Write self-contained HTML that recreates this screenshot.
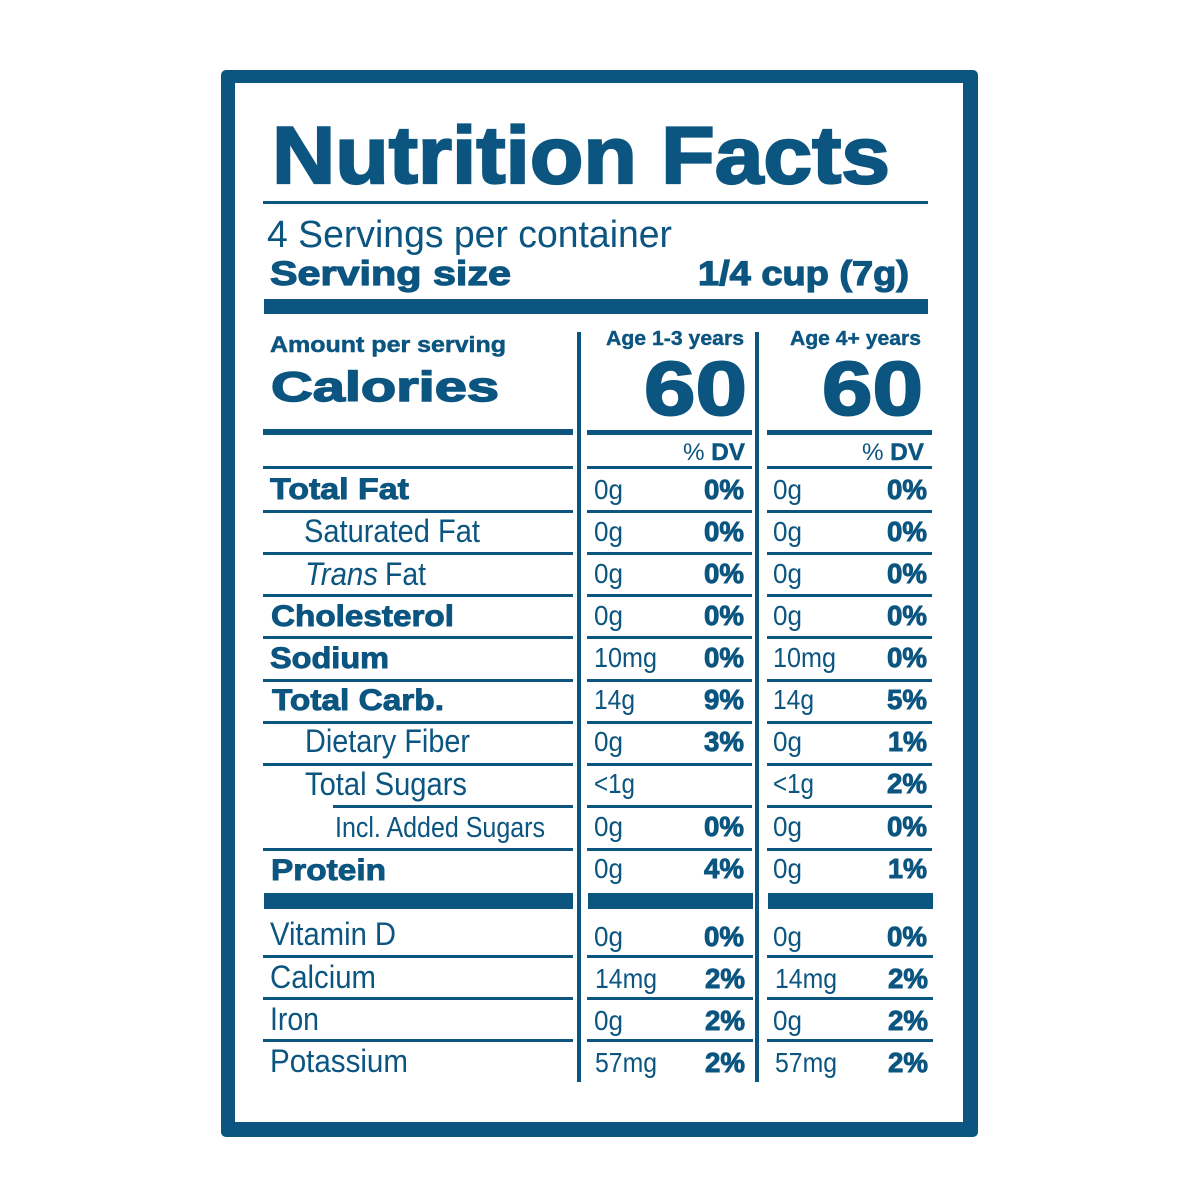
<!DOCTYPE html>
<html>
<head>
<meta charset="utf-8">
<style>
html,body{margin:0;padding:0;background:#fff;width:1200px;height:1200px;overflow:hidden;}
svg{display:block;}
.b{font-family:"Liberation Sans",sans-serif;font-weight:bold;fill:#0b5580;stroke:#0b5580;stroke-width:0.9px;}
.r{font-family:"Liberation Sans",sans-serif;font-weight:normal;fill:#0b5580;}
.i{font-family:"Liberation Sans",sans-serif;font-style:italic;fill:#0b5580;}
</style>
</head>
<body>
<svg width="1200" height="1200" viewBox="0 0 1200 1200" xmlns="http://www.w3.org/2000/svg">
<rect x="0" y="0" width="1200" height="1200" fill="#fff"/>
<!-- frame -->
<rect x="221" y="70" width="757" height="1067" rx="5" fill="#0b5580"/>
<rect x="235" y="83" width="728" height="1039" fill="#fff"/>

<g fill="#0b5580">
<!-- title rule -->
<rect x="263" y="201" width="665" height="3"/>
<!-- thick bar under serving size -->
<rect x="264" y="299" width="664" height="15"/>
<!-- vertical lines -->
<rect x="577" y="332" width="4" height="750"/>
<rect x="755" y="332" width="4" height="750"/>
<!-- thick lines under calories -->
<rect x="263" y="429" width="310" height="6"/>
<rect x="587" y="430" width="165" height="5"/>
<rect x="767" y="430" width="165" height="5"/>
<!-- row lines -->
<rect x="263" y="466" width="310" height="3"/><rect x="587" y="466" width="165" height="3"/><rect x="767" y="466" width="165" height="3"/>
<rect x="263" y="510" width="310" height="3"/><rect x="587" y="510" width="165" height="3"/><rect x="767" y="510" width="165" height="3"/>
<rect x="263" y="552" width="310" height="3"/><rect x="587" y="552" width="165" height="3"/><rect x="767" y="552" width="165" height="3"/>
<rect x="263" y="594" width="310" height="3"/><rect x="587" y="594" width="165" height="3"/><rect x="767" y="594" width="165" height="3"/>
<rect x="263" y="636" width="310" height="3"/><rect x="587" y="636" width="165" height="3"/><rect x="767" y="636" width="165" height="3"/>
<rect x="263" y="679" width="310" height="3"/><rect x="587" y="679" width="165" height="3"/><rect x="767" y="679" width="165" height="3"/>
<rect x="263" y="721" width="310" height="3"/><rect x="587" y="721" width="165" height="3"/><rect x="767" y="721" width="165" height="3"/>
<rect x="263" y="763" width="310" height="3"/><rect x="587" y="763" width="165" height="3"/><rect x="767" y="763" width="165" height="3"/>
<rect x="333" y="805" width="240" height="3"/><rect x="587" y="805" width="165" height="3"/><rect x="767" y="805" width="165" height="3"/>
<rect x="263" y="848" width="310" height="3"/><rect x="587" y="848" width="165" height="3"/><rect x="767" y="848" width="165" height="3"/>
<!-- thick bar -->
<rect x="264" y="893" width="309" height="16"/><rect x="588" y="893" width="165" height="16"/><rect x="768" y="893" width="165" height="16"/>
<rect x="263" y="955" width="310" height="3"/><rect x="587" y="955" width="166" height="3"/><rect x="767" y="955" width="166" height="3"/>
<rect x="263" y="997" width="310" height="3"/><rect x="587" y="997" width="166" height="3"/><rect x="767" y="997" width="166" height="3"/>
<rect x="263" y="1039" width="310" height="3"/><rect x="587" y="1039" width="166" height="3"/><rect x="767" y="1039" width="166" height="3"/>
</g>

<!-- header text -->
<text class="b" x="272" y="183" font-size="81" textLength="618" lengthAdjust="spacingAndGlyphs" style="stroke-width:2.2px">Nutrition Facts</text>
<text class="r" x="267" y="247" font-size="38" textLength="405" lengthAdjust="spacingAndGlyphs">4 Servings per container</text>
<text class="b" x="270" y="285" font-size="34" textLength="241" lengthAdjust="spacingAndGlyphs" style="stroke-width:1.2px">Serving size</text>
<text class="b" x="698" y="285" font-size="34" textLength="211" lengthAdjust="spacingAndGlyphs" style="stroke-width:1.2px">1/4 cup (7g)</text>

<text class="b" x="270" y="352" font-size="22" textLength="236" lengthAdjust="spacingAndGlyphs" style="stroke-width:0.5px">Amount per serving</text>
<text class="b" x="271" y="401" font-size="42" textLength="228" lengthAdjust="spacingAndGlyphs" style="stroke-width:1.5px">Calories</text>

<text class="b" x="606" y="345" font-size="20" textLength="138" lengthAdjust="spacingAndGlyphs" style="stroke-width:0.4px">Age 1-3 years</text>
<text class="b" x="790" y="345" font-size="20" textLength="131" lengthAdjust="spacingAndGlyphs" style="stroke-width:0.4px">Age 4+ years</text>
<text class="b" x="644" y="415" font-size="76" textLength="103" lengthAdjust="spacingAndGlyphs" style="stroke-width:2px">60</text>
<text class="b" x="822" y="415" font-size="76" textLength="101" lengthAdjust="spacingAndGlyphs" style="stroke-width:2px">60</text>

<text x="683" y="460" font-size="24" textLength="62" lengthAdjust="spacingAndGlyphs" font-family="Liberation Sans, sans-serif" fill="#0b5580"><tspan>% </tspan><tspan font-weight="bold" stroke="#0b5580" stroke-width="0.5">DV</tspan></text>
<text x="862" y="460" font-size="24" textLength="62" lengthAdjust="spacingAndGlyphs" font-family="Liberation Sans, sans-serif" fill="#0b5580"><tspan>% </tspan><tspan font-weight="bold" stroke="#0b5580" stroke-width="0.5">DV</tspan></text>

<!-- labels -->
<text class="b" x="270" y="499" font-size="30" textLength="139" lengthAdjust="spacingAndGlyphs">Total Fat</text>
<text class="r" x="304" y="542" font-size="32" textLength="176" lengthAdjust="spacingAndGlyphs">Saturated Fat</text>
<text class="i" x="305" y="585" font-size="32" textLength="73" lengthAdjust="spacingAndGlyphs">Trans</text>
<text class="r" x="385" y="585" font-size="32" textLength="41" lengthAdjust="spacingAndGlyphs">Fat</text>
<text class="b" x="271" y="626" font-size="30" textLength="183" lengthAdjust="spacingAndGlyphs">Cholesterol</text>
<text class="b" x="270" y="668" font-size="30" textLength="119" lengthAdjust="spacingAndGlyphs">Sodium</text>
<text class="b" x="272" y="710" font-size="30" textLength="172" lengthAdjust="spacingAndGlyphs">Total Carb.</text>
<text class="r" x="305" y="752" font-size="32" textLength="165" lengthAdjust="spacingAndGlyphs">Dietary Fiber</text>
<text class="r" x="305" y="795" font-size="32" textLength="162" lengthAdjust="spacingAndGlyphs">Total Sugars</text>
<text class="r" x="335" y="837" font-size="29" textLength="210" lengthAdjust="spacingAndGlyphs">Incl. Added Sugars</text>
<text class="b" x="271" y="880" font-size="30" textLength="115" lengthAdjust="spacingAndGlyphs">Protein</text>
<text class="r" x="270" y="945" font-size="32" textLength="126" lengthAdjust="spacingAndGlyphs">Vitamin D</text>
<text class="r" x="270" y="988" font-size="32" textLength="106" lengthAdjust="spacingAndGlyphs">Calcium</text>
<text class="r" x="270" y="1030" font-size="32" textLength="49" lengthAdjust="spacingAndGlyphs">Iron</text>
<text class="r" x="270" y="1072" font-size="32" textLength="138" lengthAdjust="spacingAndGlyphs">Potassium</text>

<!-- column 2 amounts -->
<g class="r" font-size="28">
<text class="r" x="594" y="499" textLength="29" lengthAdjust="spacingAndGlyphs">0g</text>
<text class="r" x="594" y="541" textLength="29" lengthAdjust="spacingAndGlyphs">0g</text>
<text class="r" x="594" y="583" textLength="29" lengthAdjust="spacingAndGlyphs">0g</text>
<text class="r" x="594" y="625" textLength="29" lengthAdjust="spacingAndGlyphs">0g</text>
<text class="r" x="594" y="667" textLength="63" lengthAdjust="spacingAndGlyphs">10mg</text>
<text class="r" x="594" y="709" textLength="41" lengthAdjust="spacingAndGlyphs">14g</text>
<text class="r" x="594" y="751" textLength="29" lengthAdjust="spacingAndGlyphs">0g</text>
<text class="r" x="594" y="793" textLength="41" lengthAdjust="spacingAndGlyphs">&lt;1g</text>
<text class="r" x="594" y="836" textLength="29" lengthAdjust="spacingAndGlyphs">0g</text>
<text class="r" x="594" y="878" textLength="29" lengthAdjust="spacingAndGlyphs">0g</text>
<text class="r" x="594" y="946" textLength="29" lengthAdjust="spacingAndGlyphs">0g</text>
<text class="r" x="595" y="988" textLength="62" lengthAdjust="spacingAndGlyphs">14mg</text>
<text class="r" x="594" y="1030" textLength="29" lengthAdjust="spacingAndGlyphs">0g</text>
<text class="r" x="595" y="1072" textLength="62" lengthAdjust="spacingAndGlyphs">57mg</text>
</g>
<!-- column 3 amounts -->
<g class="r" font-size="28">
<text class="r" x="773" y="499" textLength="29" lengthAdjust="spacingAndGlyphs">0g</text>
<text class="r" x="773" y="541" textLength="29" lengthAdjust="spacingAndGlyphs">0g</text>
<text class="r" x="773" y="583" textLength="29" lengthAdjust="spacingAndGlyphs">0g</text>
<text class="r" x="773" y="625" textLength="29" lengthAdjust="spacingAndGlyphs">0g</text>
<text class="r" x="773" y="667" textLength="63" lengthAdjust="spacingAndGlyphs">10mg</text>
<text class="r" x="773" y="709" textLength="41" lengthAdjust="spacingAndGlyphs">14g</text>
<text class="r" x="773" y="751" textLength="29" lengthAdjust="spacingAndGlyphs">0g</text>
<text class="r" x="773" y="793" textLength="41" lengthAdjust="spacingAndGlyphs">&lt;1g</text>
<text class="r" x="773" y="836" textLength="29" lengthAdjust="spacingAndGlyphs">0g</text>
<text class="r" x="773" y="878" textLength="29" lengthAdjust="spacingAndGlyphs">0g</text>
<text class="r" x="773" y="946" textLength="29" lengthAdjust="spacingAndGlyphs">0g</text>
<text class="r" x="775" y="988" textLength="62" lengthAdjust="spacingAndGlyphs">14mg</text>
<text class="r" x="773" y="1030" textLength="29" lengthAdjust="spacingAndGlyphs">0g</text>
<text class="r" x="775" y="1072" textLength="62" lengthAdjust="spacingAndGlyphs">57mg</text>
</g>
<!-- column 2 percents -->
<g font-size="28">
<text class="b" x="704" y="499" textLength="40" lengthAdjust="spacingAndGlyphs">0%</text>
<text class="b" x="704" y="541" textLength="40" lengthAdjust="spacingAndGlyphs">0%</text>
<text class="b" x="704" y="583" textLength="40" lengthAdjust="spacingAndGlyphs">0%</text>
<text class="b" x="704" y="625" textLength="40" lengthAdjust="spacingAndGlyphs">0%</text>
<text class="b" x="704" y="667" textLength="40" lengthAdjust="spacingAndGlyphs">0%</text>
<text class="b" x="704" y="709" textLength="40" lengthAdjust="spacingAndGlyphs">9%</text>
<text class="b" x="704" y="751" textLength="40" lengthAdjust="spacingAndGlyphs">3%</text>
<text class="b" x="704" y="836" textLength="40" lengthAdjust="spacingAndGlyphs">0%</text>
<text class="b" x="704" y="878" textLength="40" lengthAdjust="spacingAndGlyphs">4%</text>
<text class="b" x="704" y="946" textLength="40" lengthAdjust="spacingAndGlyphs">0%</text>
<text class="b" x="705" y="988" textLength="40" lengthAdjust="spacingAndGlyphs">2%</text>
<text class="b" x="705" y="1030" textLength="40" lengthAdjust="spacingAndGlyphs">2%</text>
<text class="b" x="705" y="1072" textLength="40" lengthAdjust="spacingAndGlyphs">2%</text>
</g>
<!-- column 3 percents -->
<g font-size="28">
<text class="b" x="887" y="499" textLength="40" lengthAdjust="spacingAndGlyphs">0%</text>
<text class="b" x="887" y="541" textLength="40" lengthAdjust="spacingAndGlyphs">0%</text>
<text class="b" x="887" y="583" textLength="40" lengthAdjust="spacingAndGlyphs">0%</text>
<text class="b" x="887" y="625" textLength="40" lengthAdjust="spacingAndGlyphs">0%</text>
<text class="b" x="887" y="667" textLength="40" lengthAdjust="spacingAndGlyphs">0%</text>
<text class="b" x="887" y="709" textLength="40" lengthAdjust="spacingAndGlyphs">5%</text>
<text class="b" x="888" y="751" textLength="39" lengthAdjust="spacingAndGlyphs">1%</text>
<text class="b" x="887" y="793" textLength="40" lengthAdjust="spacingAndGlyphs">2%</text>
<text class="b" x="887" y="836" textLength="40" lengthAdjust="spacingAndGlyphs">0%</text>
<text class="b" x="888" y="878" textLength="39" lengthAdjust="spacingAndGlyphs">1%</text>
<text class="b" x="887" y="946" textLength="40" lengthAdjust="spacingAndGlyphs">0%</text>
<text class="b" x="888" y="988" textLength="40" lengthAdjust="spacingAndGlyphs">2%</text>
<text class="b" x="888" y="1030" textLength="40" lengthAdjust="spacingAndGlyphs">2%</text>
<text class="b" x="888" y="1072" textLength="40" lengthAdjust="spacingAndGlyphs">2%</text>
</g>
</svg>
</body>
</html>
